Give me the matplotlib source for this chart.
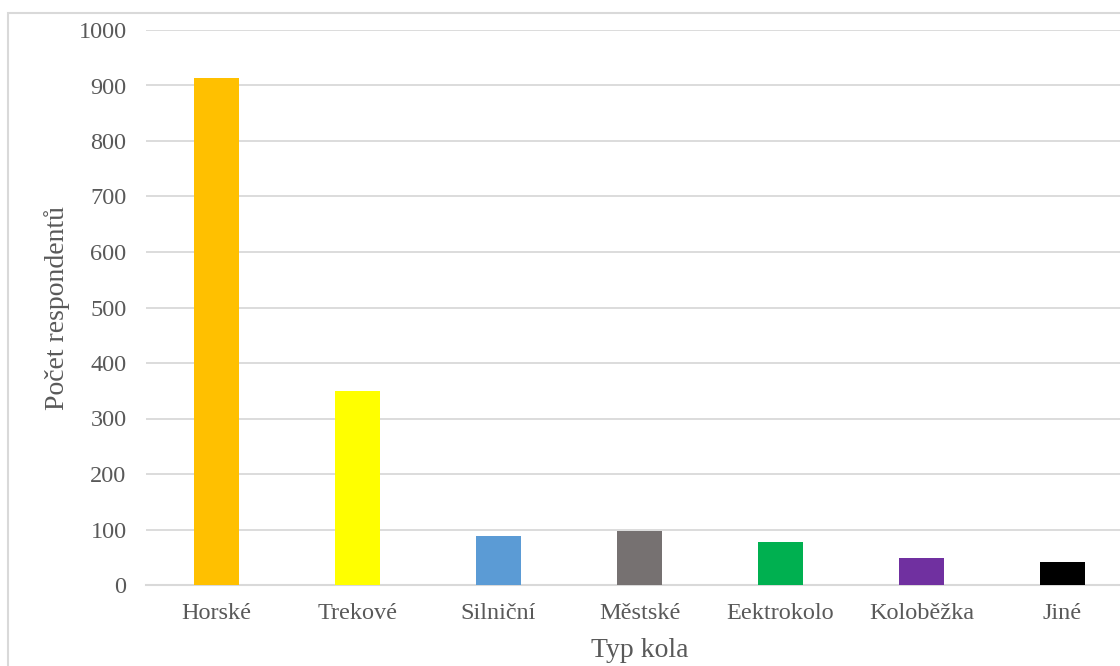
import matplotlib.pyplot as plt
from matplotlib.patches import Rectangle

# bike types and number of respondents
typy = ['Horské', 'Trekové', 'Silniční', 'Městské', 'Eektrokolo', 'Koloběžka', 'Jiné']
pocty = [913, 350, 88, 97, 78, 49, 41]
barvy = ['#FFC000', '#FFFF00', '#5B9BD5', '#767171', '#00B050', '#7030A0', '#000000']

plt.rcParams['font.family'] = ['Liberation Serif', 'DejaVu Serif']
seda = '#595959'

fig = plt.figure(figsize=(11.2, 6.66), dpi=100)
ax = fig.add_axes([146/1120, 1 - 585/666, 987/1120, 555/666])

# chart border (right and bottom edges fall outside the image)
fig.patches.append(Rectangle((8/1120, -0.1), 1.2, 1 - 13/666 + 0.1, transform=fig.transFigure,
                             fill=False, edgecolor='#d9d9d9', linewidth=1.5))

x = range(len(typy))
ax.bar(x, pocty, width=0.32, color=barvy, zorder=3)

ax.set_xlim(-0.5, len(typy) - 0.5)
ax.set_ylim(0, 1000)
ax.set_yticks(range(0, 1001, 100))
ax.set_xticks(list(x))
ax.set_xticklabels(typy)

ax.grid(axis='y', color='#d9d9d9', linewidth=1.3, zorder=0)
for s in ['top', 'right', 'left']:
    ax.spines[s].set_visible(False)
ax.spines['bottom'].set_color('#d9d9d9')
ax.spines['bottom'].set_linewidth(1.5)
ax.tick_params(axis='both', length=0, labelsize=17.5, labelcolor=seda)
ax.tick_params(axis='y', pad=14)
ax.tick_params(axis='x', pad=13)

ax.set_xlabel('Typ kola', fontsize=20, color=seda, labelpad=10)
ax.set_ylabel('Počet respondentů', fontsize=20, color=seda, labelpad=6)

fig.savefig('out.png', dpi=100)
